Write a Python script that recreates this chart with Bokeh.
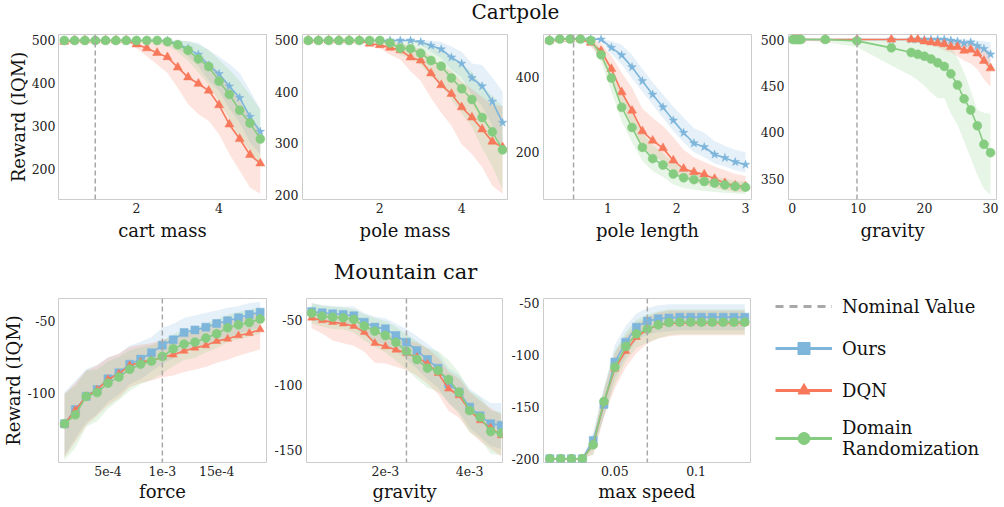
import numpy as np
from bokeh.plotting import figure
from bokeh.models import Span, Legend, LegendItem, FixedTicker, Label
from bokeh.layouts import row, column
from bokeh.embed import file_html
from bokeh.resources import INLINE

BLUE = "#7DB5DB"
RED = "#F7785A"
GREEN = "#86CC80"
FONT = "DejaVu Serif"

# ---------------- Cartpole: cart mass ----------------
cm_x = [0.25, 0.5, 0.75, 1.0, 1.25, 1.5, 1.75, 2.0, 2.25, 2.5, 2.75, 3.0, 3.25, 3.5, 3.75, 4.0, 4.25, 4.5, 4.75, 5.0]
cm_ours = [500, 500, 500, 500, 500, 500, 500, 500, 500, 500, 500, 491, 481, 467, 442, 422, 393, 366, 322, 287]
cm_ours_lo = [500, 500, 500, 500, 500, 500, 500, 500, 500, 499, 496, 481, 463, 440, 406, 382, 341, 308, 262, 234]
cm_ours_hi = [500, 500, 500, 500, 500, 500, 500, 500, 500, 500, 500, 500, 499, 494, 478, 462, 445, 424, 383, 340]
cm_dqn = [497, 500, 500, 500, 500, 500, 500, 491, 482, 471, 461, 437, 414, 399, 383, 349, 304, 270, 233, 213]
cm_dqn_lo = [492, 496, 498, 500, 500, 500, 499, 482, 463, 444, 424, 389, 351, 328, 312, 281, 235, 196, 157, 142]
cm_dqn_hi = [500, 500, 500, 500, 500, 500, 500, 500, 499, 497, 494, 486, 472, 462, 450, 425, 392, 360, 322, 290]
cm_dr = [500, 500, 500, 500, 500, 500, 500, 500, 500, 500, 497, 490, 477, 457, 439, 405, 374, 337, 307, 270]
cm_dr_lo = [500, 500, 500, 500, 500, 500, 500, 500, 498, 494, 487, 473, 452, 425, 398, 357, 318, 272, 243, 205]
cm_dr_hi = [500, 500, 500, 500, 500, 500, 500, 500, 500, 500, 500, 500, 498, 490, 478, 455, 432, 405, 372, 338]

# ---------------- Cartpole: pole mass ----------------
pm_x = [0.25, 0.5, 0.75, 1.0, 1.25, 1.5, 1.75, 2.0, 2.25, 2.5, 2.75, 3.0, 3.25, 3.5, 3.75, 4.0, 4.25, 4.5, 4.75, 5.0]
pm_ours = [500, 500, 500, 500, 500, 500, 500, 500, 500, 500, 500, 497, 490, 483, 467, 455, 427, 411, 381, 340]
pm_ours_lo = [500, 500, 500, 500, 500, 500, 500, 500, 500, 500, 498, 492, 478, 466, 443, 428, 395, 372, 335, 282]
pm_ours_hi = [500, 500, 500, 500, 500, 500, 500, 500, 500, 500, 500, 500, 500, 497, 488, 478, 455, 452, 428, 400]
pm_dqn = [500, 500, 500, 500, 500, 500, 494, 491, 486, 481, 467, 461, 436, 413, 396, 370, 350, 327, 303, 292]
pm_dqn_lo = [500, 500, 500, 500, 500, 500, 490, 485, 472, 463, 440, 421, 388, 359, 334, 298, 279, 253, 217, 201]
pm_dqn_hi = [500, 500, 500, 500, 500, 500, 500, 500, 498, 495, 488, 484, 468, 452, 440, 420, 405, 390, 375, 372]
pm_dr = [500, 500, 500, 500, 500, 500, 500, 500, 495, 485, 484, 475, 461, 450, 427, 406, 385, 350, 322, 287]
pm_dr_lo = [500, 500, 500, 500, 500, 500, 500, 497, 488, 472, 465, 452, 430, 414, 385, 358, 332, 290, 255, 210]
pm_dr_hi = [500, 500, 500, 500, 500, 500, 500, 500, 500, 500, 499, 496, 490, 484, 470, 455, 438, 412, 392, 372]

# ---------------- Cartpole: pole length ----------------
pl_x = [0.15, 0.3, 0.45, 0.6, 0.75, 0.9, 1.05, 1.2, 1.35, 1.5, 1.65, 1.8, 1.95, 2.1, 2.25, 2.4, 2.55, 2.7, 2.85, 3.0]
pl_ours = [497, 500, 500, 500, 500, 499, 477, 457, 425, 388, 352, 318, 283, 250, 222, 212, 192, 183, 172, 165]
pl_ours_lo = [494, 500, 500, 500, 500, 495, 460, 432, 395, 360, 325, 290, 255, 225, 198, 185, 168, 160, 150, 145]
pl_ours_hi = [500, 500, 500, 500, 500, 500, 495, 485, 458, 420, 385, 352, 320, 290, 262, 250, 228, 215, 205, 198]
pl_dqn = [496, 500, 500, 500, 490, 468, 420, 358, 309, 254, 229, 209, 176, 154, 145, 139, 127, 116, 109, 107]
pl_dqn_lo = [490, 497, 500, 500, 480, 450, 390, 320, 268, 210, 190, 172, 145, 128, 118, 112, 103, 97, 93, 92]
pl_dqn_hi = [500, 500, 500, 500, 500, 490, 455, 410, 370, 315, 290, 268, 238, 205, 185, 172, 160, 150, 140, 135]
pl_dr = [496, 500, 500, 500, 496, 458, 396, 318, 264, 211, 181, 164, 140, 130, 125, 120, 116, 111, 107, 105]
pl_dr_lo = [490, 498, 500, 500, 488, 438, 360, 280, 225, 175, 148, 132, 112, 103, 98, 95, 92, 90, 88, 87]
pl_dr_hi = [500, 500, 500, 500, 500, 475, 425, 355, 305, 250, 218, 195, 170, 155, 148, 140, 133, 128, 122, 120]

# ---------------- Cartpole: gravity ----------------
gr_x = [0.1, 0.4, 0.75, 1.0, 1.3, 5, 9.8, 15, 18, 19, 20, 21, 22, 23, 24, 25, 26, 27, 28, 29, 30]
gr_ours = [500, 500, 500, 500, 500, 500, 500, 500, 500, 500, 500, 500, 500, 500, 499, 498, 496, 497, 493, 490, 484]
gr_ours_lo = [500, 500, 500, 500, 500, 500, 500, 500, 500, 500, 500, 500, 500, 498, 496, 493, 490, 490, 484, 478, 470]
gr_ours_hi = [500, 500, 500, 500, 500, 500, 500, 500, 500, 500, 500, 500, 500, 500, 500, 500, 500, 500, 499, 498, 497]
gr_dqn = [500, 500, 500, 500, 500, 500, 500, 500, 500, 500, 498, 497, 496, 495, 492, 492, 488, 489, 485, 477, 469]
gr_dqn_lo = [500, 500, 500, 500, 500, 500, 500, 500, 500, 500, 496, 494, 492, 488, 486, 482, 477, 474, 468, 457, 449]
gr_dqn_hi = [500, 500, 500, 500, 500, 500, 500, 500, 500, 500, 500, 500, 500, 500, 499, 499, 498, 497, 495, 490, 486]
gr_dr = [500, 500, 500, 500, 500, 500, 498.5, 491, 486, 484, 482, 479, 475, 471, 463, 451, 436, 424, 407, 387, 378]
gr_dr_lo = [499, 499, 499, 499, 499, 497, 492, 472, 461, 456, 450, 443, 437, 437, 420, 408, 390, 372, 354, 339, 332]
gr_dr_hi = [500, 500, 500, 500, 500, 500, 500, 500, 500, 500, 500, 500, 500, 498, 492, 480, 465, 445, 424, 421, 420]

# ---------------- Mountain car: force ----------------
fo_x = [1e-4, 2e-4, 3e-4, 4e-4, 5e-4, 6e-4, 7e-4, 8e-4, 9e-4, 10e-4, 11e-4, 12e-4, 13e-4, 14e-4, 15e-4, 16e-4, 17e-4, 18e-4, 19e-4]
fo_ours = [-121.5, -111.6, -102.5, -97.7, -90.3, -86.1, -80.1, -76.6, -72.2, -66.9, -63.2, -58.1, -56.3, -54.4, -51.9, -50.0, -47.9, -45.6, -44.0]
fo_ours_lo = [-143.5, -131.6, -120.5, -114.7, -106.3, -101.1, -94.1, -90.6, -85.2, -79.9, -76.2, -70.1, -68.3, -66.4, -63.9, -62.0, -58.9, -56.6, -55.0]
fo_ours_hi = [-99.5, -91.6, -83.5, -80.7, -75.3, -73.1, -67.1, -64.6, -61.2, -54.9, -52.2, -48.1, -46.3, -44.4, -42.9, -41.0, -39.9, -37.6, -37.0]
fo_dqn = [-122.0, -112.0, -102.5, -98.0, -90.7, -86.8, -81.0, -78.7, -77.5, -75.2, -73.6, -71.0, -68.8, -67.1, -64.1, -62.5, -60.2, -58.6, -56.0]
fo_dqn_lo = [-145.0, -134.0, -122.5, -116.0, -108.7, -103.8, -96.0, -93.2, -91.5, -89.2, -88.0, -85.5, -83.8, -82.1, -79.1, -77.0, -74.2, -72.0, -70.0]
fo_dqn_hi = [-101.0, -93.0, -84.5, -81.0, -75.7, -72.8, -68.0, -66.7, -65.5, -63.2, -61.6, -59.0, -56.8, -55.1, -52.1, -50.5, -48.2, -46.6, -44.0]
fo_dr = [-121.5, -115.3, -102.5, -99.8, -93.3, -89.1, -83.6, -80.1, -78.0, -74.8, -69.4, -66.2, -64.8, -62.0, -59.0, -54.9, -52.8, -51.2, -48.8]
fo_dr_lo = [-146.5, -138.3, -123.5, -119.8, -111.3, -105.1, -98.6, -94.1, -91.0, -86.8, -81.4, -77.2, -75.8, -72.0, -69.0, -64.9, -62.8, -61.2, -58.8]
fo_dr_hi = [-100.5, -95.3, -84.5, -83.8, -78.3, -75.1, -70.6, -68.1, -67.0, -63.8, -59.4, -56.2, -54.8, -52.0, -49.0, -45.9, -43.8, -42.2, -40.8]

# ---------------- Mountain car: gravity ----------------
mg_x = [0.00025, 0.0005, 0.00075, 0.001, 0.00125, 0.0015, 0.00175, 0.002, 0.00225, 0.0025, 0.00275, 0.003, 0.00325, 0.0035, 0.00375, 0.004, 0.00425, 0.0045, 0.00475]
mg_ours = [-43.6, -44.6, -45.4, -45.9, -46.9, -51.8, -55.6, -56.9, -62.0, -67.1, -73.5, -80.4, -87.0, -99.0, -105.4, -116.8, -123.5, -129.6, -130.6]
mg_ours_lo = [-50.6, -51.6, -53.4, -53.9, -55.9, -61.8, -66.6, -68.9, -74.0, -80.1, -87.5, -95.4, -102.0, -114.0, -120.4, -132.8, -139.5, -146.6, -148.6]
mg_ours_hi = [-37.6, -38.6, -39.4, -39.9, -39.9, -44.8, -47.6, -48.9, -53.0, -57.1, -62.5, -68.4, -75.0, -87.0, -92.4, -102.8, -108.5, -113.6, -113.6]
mg_dqn = [-48.5, -50.5, -51.8, -53.0, -54.8, -59.4, -67.9, -70.4, -73.0, -75.5, -78.6, -83.7, -90.8, -102.8, -107.9, -119.4, -127.0, -132.7, -138.5]
mg_dqn_lo = [-56.5, -60.5, -65.8, -68.0, -69.8, -74.4, -82.9, -83.4, -86.0, -88.5, -92.6, -98.7, -106.8, -119.8, -124.9, -135.4, -143.0, -148.7, -154.5]
mg_dqn_hi = [-42.5, -44.5, -45.8, -46.0, -47.8, -51.4, -58.9, -61.4, -63.0, -65.5, -67.6, -71.7, -78.8, -89.8, -94.9, -105.4, -112.0, -117.7, -122.5]
mg_dr = [-44.9, -47.2, -48.0, -48.5, -49.7, -54.8, -58.7, -62.0, -67.3, -74.0, -80.4, -87.0, -88.8, -95.7, -105.4, -119.4, -124.5, -135.5, -136.7]
mg_dr_lo = [-52.9, -55.2, -57.0, -57.5, -59.7, -65.8, -70.7, -75.0, -81.3, -88.0, -95.4, -102.0, -104.8, -112.7, -122.4, -136.4, -141.5, -152.5, -153.7]
mg_dr_hi = [-36.9, -39.2, -40.0, -40.5, -41.7, -45.8, -48.7, -51.0, -55.3, -61.0, -66.4, -72.0, -73.8, -80.7, -90.4, -104.4, -109.5, -119.5, -120.7]

# ---------------- Mountain car: max speed ----------------
ms_x = [0.01, 0.0167, 0.0233, 0.03, 0.0367, 0.0433, 0.05, 0.0567, 0.0633, 0.07, 0.0767, 0.0833, 0.09, 0.0967, 0.1033, 0.11, 0.1167, 0.1233, 0.13]
ms_ours = [-200, -200, -200, -200, -182.3, -147.6, -106.8, -87.6, -73.1, -67.3, -65.0, -64.2, -63.5, -63.5, -63.5, -63.5, -63.5, -63.5, -63.5]
ms_ours_lo = [-200, -200, -200, -200, -190, -160, -122, -102, -86, -80, -78, -77, -76, -76, -76, -76, -76, -76, -76]
ms_ours_hi = [-200, -200, -200, -200, -174, -132, -90, -72, -60, -55, -52, -51, -51, -51, -51, -51, -51, -51, -51]
ms_dqn = [-200, -200, -200, -200, -186.5, -145.3, -113.3, -96.3, -82.8, -75.4, -71.0, -69.3, -69.0, -69.0, -69.0, -69.0, -69.0, -69.0, -69.0]
ms_dqn_lo = [-200, -200, -200, -200, -196, -160, -132, -112, -98, -89, -84, -82, -81, -81, -81, -81, -81, -81, -81]
ms_dqn_hi = [-200, -200, -200, -200, -180, -134, -98, -82, -70, -63, -59, -57, -57, -57, -57, -57, -57, -57, -57]
ms_dr = [-200, -200, -200, -200, -186.5, -144.7, -111.7, -91.8, -79.6, -74.8, -70.9, -68.6, -68.3, -68.3, -68.3, -68.3, -68.3, -68.3, -68.3]
ms_dr_lo = [-200, -200, -200, -200, -196, -158, -128, -106, -93, -88, -84, -81, -80, -80, -80, -80, -80, -80, -80]
ms_dr_hi = [-200, -200, -200, -200, -178, -132, -96, -78, -66, -61, -58, -56, -56, -56, -56, -56, -56, -56, -56]

TICK_FS = "12.5px"
LABEL_FS = "18px"


def panel(xs, ours, dqn, dr, xr, yr, xticks, yticks, xlabel, frame_w, lb, rb, tb, bb, frame_h,
          nominal=None, xover=None, ylabel=None, top=True):
    p = figure(width=lb + frame_w + rb, height=tb + frame_h + bb, x_range=xr, y_range=yr,
               output_backend="svg", toolbar_location=None,
               min_border_left=lb, min_border_right=rb, min_border_top=tb, min_border_bottom=bb)
    p.grid.visible = False
    p.outline_line_color = "#cccccc"
    p.outline_line_width = 1
    p.background_fill_color = "white"
    for ax in p.axis:
        ax.axis_line_color = None
        ax.major_tick_line_color = None
        ax.minor_tick_line_color = None
        ax.major_tick_out = 0
        ax.major_tick_in = 0
        ax.minor_tick_out = 0
        ax.minor_tick_in = 0
        ax.major_label_text_font = FONT
        ax.major_label_text_font_size = TICK_FS
        ax.major_label_text_color = "#222222"
        ax.major_label_standoff = 4
        ax.axis_label_text_font = FONT
        ax.axis_label_text_font_size = LABEL_FS
        ax.axis_label_text_font_style = "normal"
        ax.axis_label_text_color = "#111111"
    p.xaxis.ticker = FixedTicker(ticks=xticks)
    p.yaxis.ticker = FixedTicker(ticks=yticks)
    p.yaxis.major_label_overrides = {t: str(t) for t in yticks}
    p.xaxis.axis_label = xlabel
    p.xaxis.major_label_standoff = 3
    p.xaxis.axis_label_standoff = 4 if top else 2
    if xover:
        p.xaxis.major_label_overrides = xover
    if ylabel:
        p.yaxis.axis_label = ylabel
        p.yaxis.axis_label_standoff = 0
        p.yaxis.major_label_standoff = 3
    blue_marker = "star" if top else "square"
    series = [
        (ours, BLUE, blue_marker, 9 if top else 8),
        (dqn, RED, "triangle", 9 if top else 8),
        (dr, GREEN, "circle", 9),
    ]
    for (m, lo, hi), c, mk, sz in series:
        p.varea(x=xs, y1=lo, y2=hi, fill_color=c, fill_alpha=0.2)
    if nominal is not None:
        p.add_layout(Span(location=nominal, dimension="height", line_color="#a8a8a8",
                          line_width=1.5, line_dash="5 3"))
    for (m, lo, hi), c, mk, sz in series:
        p.line(xs, m, line_color=c, line_width=1.6)
        p.scatter(xs, m, marker=mk, size=sz, fill_color=c, line_color=c, line_width=0.5)
    return p


def header(text, width, height, cx, cy_from_bottom, size):
    h = figure(width=width, height=height, x_range=(0, 1), y_range=(0, 1),
               output_backend="svg", toolbar_location=None, min_border=0,
               x_axis_type=None, y_axis_type=None, outline_line_color=None)
    h.grid.visible = False
    h.add_layout(Label(x=cx, y=cy_from_bottom, x_units="screen", y_units="screen", text=text,
                       text_align="center", text_baseline="middle", text_font=FONT,
                       text_font_size=size, text_color="#111111"))
    return h


TOP_H = 165
BOT_H = 164

f1 = panel(cm_x, (cm_ours, cm_ours_lo, cm_ours_hi), (cm_dqn, cm_dqn_lo, cm_dqn_hi), (cm_dr, cm_dr_lo, cm_dr_hi),
           (0.11, 5.15), (128.8, 513.9), [2, 4], [200, 300, 400, 500], "cart mass",
           208, 58, 5, 6, 48, TOP_H, nominal=1.0, ylabel="Reward (IQM)")
f2 = panel(pm_x, (pm_ours, pm_ours_lo, pm_ours_hi), (pm_dqn, pm_dqn_lo, pm_dqn_hi), (pm_dr, pm_dr_lo, pm_dr_hi),
           (0.11, 5.12), (190.3, 511.6), [2, 4], [200, 300, 400, 500], "pole mass",
           206, 30, 5, 6, 48, TOP_H)
f3 = panel(pl_x, (pl_ours, pl_ours_lo, pl_ours_hi), (pl_dqn, pl_dqn_lo, pl_dqn_hi), (pl_dr, pl_dr_lo, pl_dr_hi),
           (0.063, 3.087), (72, 512), [1, 2, 3], [200, 400], "pole length",
           208, 31, 6, 6, 48, TOP_H, nominal=0.5)
f4 = panel(gr_x, (gr_ours, gr_ours_lo, gr_ours_hi), (gr_dqn, gr_dqn_lo, gr_dqn_hi), (gr_dr, gr_dr_lo, gr_dr_hi),
           (-0.56, 30.9), (327.5, 505.4), [0, 10, 20, 30], [350, 400, 450, 500], "gravity",
           208, 31, 8, 6, 48, TOP_H, nominal=9.8)

f5 = panel(fo_x, (fo_ours, fo_ours_lo, fo_ours_hi), (fo_dqn, fo_dqn_lo, fo_dqn_hi), (fo_dr, fo_dr_lo, fo_dr_hi),
           (0.45e-4, 19.58e-4), (-148.4, -34.5), [0.0005, 0.001, 0.0015], [-100, -50], "force",
           208, 58, 5, 6, 43, BOT_H, nominal=0.001,
           xover={0.0005: "5e-4", 0.001: "1e-3", 0.0015: "15e-4"}, ylabel="Reward (IQM)", top=False)
f6 = panel(mg_x, (mg_ours, mg_ours_lo, mg_ours_hi), (mg_dqn, mg_dqn_lo, mg_dqn_hi), (mg_dr, mg_dr_lo, mg_dr_hi),
           (0.128e-3, 4.78e-3), (-159.2, -33.7), [0.002, 0.004], [-150, -100, -50], "gravity",
           201, 30, 6, 6, 43, BOT_H, nominal=0.0025,
           xover={0.002: "2e-3", 0.004: "4e-3"}, top=False)
f7 = panel(ms_x, (ms_ours, ms_ours_lo, ms_ours_hi), (ms_dqn, ms_dqn_lo, ms_dqn_hi), (ms_dr, ms_dr_lo, ms_dr_hi),
           (0.0061, 0.1335), (-203.6, -45.5), [0.05, 0.1], [-200, -150, -100, -50], "max speed",
           207, 35, 10, 6, 43, BOT_H, nominal=0.07,
           xover={0.05: "0.05", 0.1: "0.1"}, top=False)

# ---------------- legend panel (spans the header and the bottom row) ----------------
H2 = 45
NAN = np.array([np.nan])
lg = figure(width=244, height=H2 + 6 + BOT_H + 43, x_range=(0, 1), y_range=(0, 1),
            output_backend="svg", toolbar_location=None, title_location=None,
            min_border_left=15, min_border_top=44, min_border_right=0, min_border_bottom=0,
            x_axis_type=None, y_axis_type=None, outline_line_color=None)
lg.grid.visible = False
r_nom = lg.line(x=NAN, y=NAN, line_color="#a8a8a8", line_width=3, line_dash="8 6")
r_ol = lg.line(x=NAN, y=NAN, line_color=BLUE, line_width=3)
r_om = lg.scatter(x=NAN, y=NAN, marker="square", fill_color=BLUE, line_color=BLUE)
r_dl = lg.line(x=NAN, y=NAN, line_color=RED, line_width=3)
r_dm = lg.scatter(x=NAN, y=NAN, marker="triangle", fill_color=RED, line_color=RED)
r_rl = lg.line(x=NAN, y=NAN, line_color=GREEN, line_width=3)
r_rm = lg.scatter(x=NAN, y=NAN, marker="circle", fill_color=GREEN, line_color=GREEN)
legend = Legend(items=[
    LegendItem(label="Nominal Value", renderers=[r_nom]),
    LegendItem(label="Ours", renderers=[r_ol, r_om]),
    LegendItem(label="DQN", renderers=[r_dl, r_dm]),
    LegendItem(label="Domain\nRandomization", renderers=[r_rl, r_rm]),
], location="top_left", glyph_width=57, glyph_height=30, spacing=12, label_standoff=10,
    padding=0, margin=0, border_line_color=None, background_fill_alpha=0,
    label_text_font=FONT, label_text_font_size="18px", label_text_color="#111111",
    label_text_line_height=1.45)
lg.add_layout(legend)

h1 = header("Cartpole", 1004, 28, 515, 17, "20px")
h2 = header("Mountain car", 760, H2, 405, 21, "21px")

layout = column(h1, row(f1, f2, f3, f4), row(column(h2, row(f5, f6, f7)), lg))

open("out.html", "w").write(file_html(layout, INLINE))
